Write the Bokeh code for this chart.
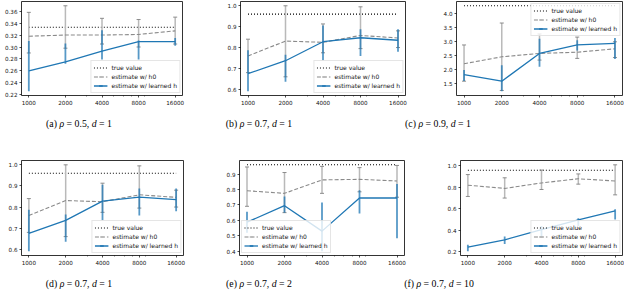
import math
from bokeh.plotting import figure
from bokeh.models import (Range1d, FixedTicker, NumeralTickFormatter, PrintfTickFormatter,
                          Legend, LegendItem, Div, ColumnDataSource)
from bokeh.layouts import column, row
from bokeh.embed import file_html
from bokeh.resources import INLINE

# ---------------- data ----------------
n_samples = [1000, 2000, 4000, 8000, 16000]
minor_ticks = [3000, 5000, 6000, 7000, 9000]

# (a) rho=0.5, d=1
a_true = 0.333
a_h0 = [0.318, 0.320, 0.320, 0.321, 0.327]
a_h0_lo = [0.290, 0.298, 0.305, 0.300, 0.305]
a_h0_hi = [0.358, 0.369, 0.348, 0.346, 0.350]
a_lh = [0.260, 0.275, 0.293, 0.309, 0.309]
a_lh_lo = [0.226, 0.272, 0.279, 0.279, 0.302]
a_lh_hi = [0.310, 0.306, 0.328, 0.311, 0.315]
a_ticks = [0.22, 0.24, 0.26, 0.28, 0.30, 0.32, 0.34, 0.36]

# (b) rho=0.7, d=1
b_true = 0.96
b_h0 = [0.760, 0.831, 0.825, 0.858, 0.846]
b_h0_lo = [0.680, 0.660, 0.775, 0.795, 0.800]
b_h0_hi = [0.840, 1.000, 0.913, 0.995, 0.880]
b_lh = [0.675, 0.737, 0.828, 0.847, 0.835]
b_lh_lo = [0.591, 0.636, 0.738, 0.760, 0.780]
b_lh_hi = [0.787, 0.765, 0.906, 0.888, 0.888]
b_ticks = [0.6, 0.7, 0.8, 0.9, 1.0]

# (c) rho=0.9, d=1
c_true = 4.28
c_h0 = [2.22, 2.466, 2.587, 2.63, 2.75]
c_h0_lo = [1.60, 1.27, 2.35, 2.41, 2.44]
c_h0_hi = [2.887, 3.667, 3.277, 3.167, 3.00]
c_lh = [1.833, 1.60, 2.587, 2.887, 2.943]
c_lh_lo = [1.61, 1.243, 2.11, 2.69, 2.387]
c_lh_hi = [2.00, 2.167, 3.11, 3.055, 3.133]
c_ticks = [1.5, 2.0, 2.5, 3.0, 3.5, 4.0]

# (d) rho=0.7, d=1
d_true = 0.96
d_h0 = [0.760, 0.831, 0.825, 0.858, 0.846]
d_h0_lo = [0.680, 0.660, 0.775, 0.795, 0.800]
d_h0_hi = [0.840, 1.000, 0.913, 0.995, 0.880]
d_lh = [0.675, 0.737, 0.828, 0.847, 0.835]
d_lh_lo = [0.591, 0.636, 0.738, 0.760, 0.780]
d_lh_hi = [0.787, 0.765, 0.906, 0.888, 0.888]
d_ticks = [0.6, 0.7, 0.8, 0.9, 1.0]

# (e) rho=0.7, d=2
e_true = 0.96
e_h0 = [0.792, 0.775, 0.862, 0.866, 0.855]
e_h0_lo = [0.691, 0.650, 0.775, 0.785, 0.750]
e_h0_hi = [0.946, 0.910, 0.950, 0.942, 0.956]
e_lh = [0.588, 0.695, 0.530, 0.745, 0.745]
e_lh_lo = [0.520, 0.649, 0.400, 0.645, 0.484]
e_lh_hi = [0.655, 0.755, 0.715, 0.795, 0.836]
e_ticks = [0.4, 0.5, 0.6, 0.7, 0.8, 0.9]

# (f) rho=0.7, d=10
f_true = 0.96
f_h0 = [0.820, 0.790, 0.841, 0.880, 0.859]
f_h0_lo = [0.715, 0.700, 0.780, 0.830, 0.730]
f_h0_hi = [0.919, 0.889, 0.961, 0.925, 1.010]
f_lh = [0.242, 0.311, 0.405, 0.497, 0.580]
f_lh_lo = [0.205, 0.272, 0.330, 0.440, 0.500]
f_lh_hi = [0.266, 0.341, 0.440, 0.512, 0.595]
f_ticks = [0.2, 0.4, 0.6, 0.8, 1.0]

captions = ["(a) <i>ρ</i> = 0.5, <i>d</i> = 1", "(b) <i>ρ</i> = 0.7, <i>d</i> = 1",
            "(c) <i>ρ</i> = 0.9, <i>d</i> = 1", "(d) <i>ρ</i> = 0.7, <i>d</i> = 1",
            "(e) <i>ρ</i> = 0.7, <i>d</i> = 2", "(f) <i>ρ</i> = 0.7, <i>d</i> = 10"]

# ---------------- style ----------------
GRAY_LINE = "#8a8a8a"
GRAY_BAR = "#b9b9b9"
GRAY_CAP = "#808080"
BLUE = "#1f77b4"
TICK_FONT = "5.6px"


def make_panel(true_v, h0, h0_lo, h0_hi, lh, lh_lo, lh_hi, yticks, yfmt,
               L, FW, R, T, FH, B, legend_loc):
    lo = min(h0_lo + lh_lo + [true_v])
    hi = max(h0_hi + lh_hi + [true_v])
    m = 0.05 * (hi - lo)
    lx0, lx1 = math.log2(n_samples[0]), math.log2(n_samples[-1])
    mx = 0.05 * (lx1 - lx0)
    p = figure(x_axis_type="log",
               x_range=Range1d(2 ** (lx0 - mx), 2 ** (lx1 + mx)),
               y_range=Range1d(lo - m, hi + m),
               frame_width=FW, frame_height=FH,
               min_border_left=L, min_border_right=R,
               min_border_top=T, min_border_bottom=B,
               output_backend="svg", toolbar_location=None,
               background_fill_color="white", border_fill_color="white")
    p.xgrid.visible = False
    p.ygrid.visible = False
    p.outline_line_color = "black"
    p.outline_line_width = 0.8

    p.xaxis.ticker = FixedTicker(ticks=n_samples, minor_ticks=minor_ticks)
    p.xaxis.formatter = NumeralTickFormatter(format="0")
    p.yaxis.ticker = FixedTicker(ticks=yticks)
    p.yaxis.formatter = PrintfTickFormatter(format=yfmt)
    for ax in (p.xaxis[0], p.yaxis[0]):
        ax.axis_line_color = None
        ax.major_tick_in = 0
        ax.major_tick_out = 2
        ax.minor_tick_in = 0
        ax.minor_tick_out = 1
        ax.major_tick_line_color = "black"
        ax.major_tick_line_width = 0.7
        ax.minor_tick_line_color = "black"
        ax.minor_tick_line_width = 0.5
        ax.major_label_text_font = "DejaVu Sans"
        ax.major_label_text_font_size = TICK_FONT
        ax.major_label_text_color = "#111111"
        ax.major_label_standoff = 2
    p.yaxis.minor_tick_line_color = None

    src = ColumnDataSource(dict(n=n_samples, h0=h0, h0_lo=h0_lo, h0_hi=h0_hi,
                                lh=lh, lh_lo=lh_lo, lh_hi=lh_hi,
                                tv=[true_v] * len(n_samples)))

    r_true = p.line("n", "tv", source=src, line_color="black", line_width=1.1,
                    line_dash="1 2")
    # h0 error bars
    p.segment(x0="n", y0="h0_lo", x1="n", y1="h0_hi", source=src,
              line_color=GRAY_BAR, line_width=1.5)
    p.scatter("n", "h0_lo", source=src, marker="dash", size=4, line_color=GRAY_CAP,
              line_width=0.9)
    p.scatter("n", "h0_hi", source=src, marker="dash", size=4, line_color=GRAY_CAP,
              line_width=0.9)
    r_h0 = p.line("n", "h0", source=src, line_color=GRAY_LINE, line_width=1.1,
                  line_dash="4 2")
    # learned h error bars
    p.segment(x0="n", y0="lh_lo", x1="n", y1="lh_hi", source=src,
              line_color=BLUE, line_alpha=0.75, line_width=1.8)
    r_lh = p.line("n", "lh", source=src, line_color=BLUE, line_width=1.3)

    # legend helpers (size 0 on the plot; legend draws its own size)
    k_h0 = p.scatter("n", "h0", source=src, marker="dash", angle=math.pi / 2, size=0,
                     line_color=GRAY_BAR, line_width=1.5)
    k_lh = p.scatter("n", "lh", source=src, marker="dash", angle=math.pi / 2, size=0,
                     line_color=BLUE, line_width=1.6)

    legend = Legend(items=[
        LegendItem(label="true value", renderers=[r_true]),
        LegendItem(label="estimate w/ h0", renderers=[r_h0, k_h0]),
        LegendItem(label="estimate w/ learned h", renderers=[r_lh, k_lh]),
    ], location=legend_loc)
    legend.label_text_font = "DejaVu Sans"
    legend.label_text_font_size = "6px"
    legend.label_text_color = "#111111"
    legend.glyph_width = 14
    legend.glyph_height = 9
    legend.label_height = 9
    legend.label_width = 10
    legend.label_standoff = 4
    legend.spacing = 0
    legend.padding = 2
    legend.margin = 2
    legend.border_line_color = "#cccccc"
    legend.border_line_width = 0.8
    legend.background_fill_color = "white"
    legend.background_fill_alpha = 0.8
    p.add_layout(legend, "center")
    return p


fa = make_panel(a_true, a_h0, a_h0_lo, a_h0_hi, a_lh, a_lh_lo, a_lh_hi, a_ticks, "%.2f",
                21, 161, 30, 1, 94, 17, "bottom_right")
fb = make_panel(b_true, b_h0, b_h0_lo, b_h0_hi, b_lh, b_lh_lo, b_lh_hi, b_ticks, "%.1f",
                28, 165, 21, 1, 94, 17, "bottom_right")
fc = make_panel(c_true, c_h0, c_h0_lo, c_h0_hi, c_lh, c_lh_lo, c_lh_hi, c_ticks, "%.1f",
                30, 166, 2, 1, 94, 17, "top_right")
fd = make_panel(d_true, d_h0, d_h0_lo, d_h0_hi, d_lh, d_lh_lo, d_lh_hi, d_ticks, "%.1f",
                21, 162, 29, 24, 95, 16, "bottom_right")
fe = make_panel(e_true, e_h0, e_h0_lo, e_h0_hi, e_lh, e_lh_lo, e_lh_hi, e_ticks, "%.1f",
                27, 165, 22, 24, 95, 16, "bottom_left")
ff = make_panel(f_true, f_h0, f_h0_lo, f_h0_hi, f_lh, f_lh_lo, f_lh_hi, f_ticks, "%.1f",
                34, 162, 2, 24, 95, 16, "bottom_right")


def caption_div(items, height, cy):
    spans = "".join(
        '<span style="position:absolute;left:%.1fpx;top:%.1fpx;transform:translate(-50%%,-50%%);'
        'white-space:nowrap;font-family:Liberation Serif,Times New Roman,serif;'
        'font-size:9.8px;color:#000;">%s</span>'
        % (x, cy, t) for x, t in items)
    html = ('<div style="position:relative;width:624px;height:%dpx;'
            'font-family:Liberation Serif,serif;">%s</div>' % (height, spans))
    return Div(text=html, width=624, height=height, margin=(0, 0, 0, 0),
               styles={"font-family": "Liberation Serif, serif"})


cap1 = caption_div([(79, captions[0]), (259, captions[1]), (438, captions[2])], 24, 12.2)
cap2 = caption_div([(79, captions[3]), (259, captions[4]), (439, captions[5])], 20, 13.4)

layout = column(row(fa, fb, fc, spacing=0), cap1, row(fd, fe, ff, spacing=0), cap2,
                spacing=0)

open("out.html", "w").write(file_html(layout, INLINE))
